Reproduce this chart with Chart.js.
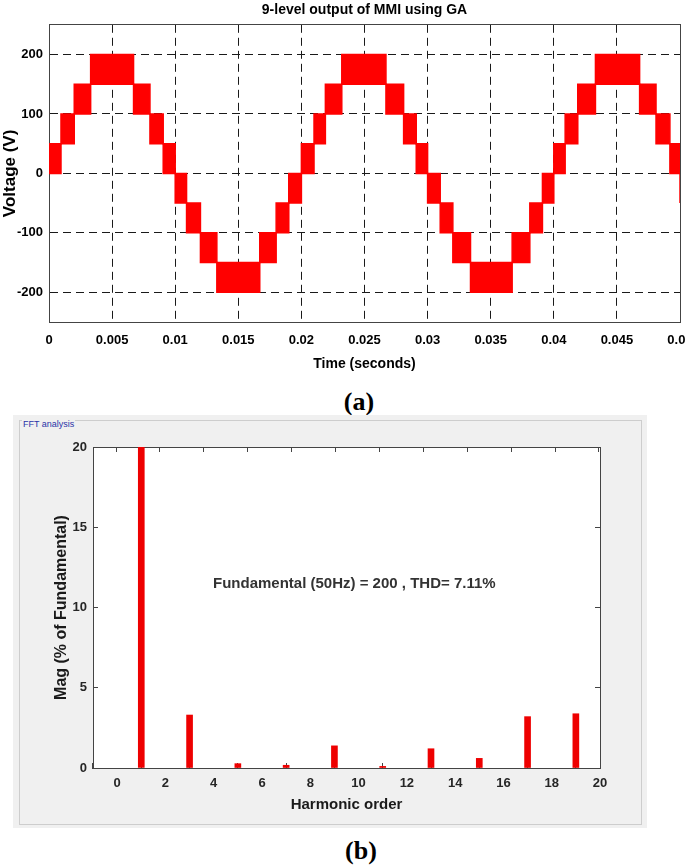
<!DOCTYPE html>
<html>
<head>
<meta charset="utf-8">
<title>9-level output of MMI using GA</title>
<script src="https://cdn.jsdelivr.net/npm/chart.js@4/dist/chart.umd.min.js"></script>
<style>
  html, body { margin: 0; padding: 0; background: #fff; }
  body { position: relative; width: 685px; height: 866px; overflow: hidden; font-family: 'Liberation Sans', Arial, sans-serif; }
  #waveCanvas { position: absolute; left: 0; top: 0; }
  .caption { position: absolute; width: 60px; text-align: center; font-family: 'Liberation Serif', 'Times New Roman', serif; font-weight: bold; font-size: 26px; line-height: 26px; }
  #capA { left: 329px; top: 389px; }
  #capB { left: 331px; top: 838px; }
  #fftPanel { position: absolute; left: 13px; top: 415px; width: 634px; height: 413px; background: #f0f0f0; }
  #fftGroup { position: absolute; left: 6px; top: 5px; width: 623px; height: 405px; box-sizing: border-box; border: 1px solid #cdcdcd; }
  #fftGroup span { position: absolute; left: 2px; top: -2px; padding: 0 1px; background: #f0f0f0; color: #2a34a8; font-size: 9px; line-height: 11px; }
  #fftCanvas { position: absolute; left: 0; top: 0; }
  #fftNote { position: absolute; left: 213px; top: 574px; white-space: nowrap; font-weight: bold; font-size: 15px; line-height: 18px; color: #333; }
</style>
</head>
<body>
<canvas id="waveCanvas" width="685" height="385"></canvas>
<div class="caption" id="capA">(a)</div>
<div id="fftPanel">
  <div id="fftGroup"><span>FFT analysis</span></div>
  <canvas id="fftCanvas" width="634" height="413"></canvas>
</div>
<div id="fftNote">Fundamental (50Hz) = 200 , THD= 7.11%</div>
<div class="caption" id="capB">(b)</div>

<script>
// (a) stepped output: each switching instant starts a band between lower and upper level
const switchTimes = [
  0, 0.00095, 0.002, 0.0033, 0.0067, 0.008, 0.00905,
  0.01, 0.0109, 0.012, 0.0133, 0.0167, 0.018, 0.019,
  0.02, 0.021, 0.0219, 0.0232, 0.0267, 0.0281, 0.0291,
  0.03, 0.031, 0.032, 0.0334, 0.0367, 0.0381, 0.0391,
  0.04, 0.0409, 0.0419, 0.0433, 0.0468, 0.0481, 0.0492,
  0.05
];
const upperLevels = [
  50, 100, 150, 200, 150, 100, 50,
  0, -50, -100, -150, -100, -50, 0,
  50, 100, 150, 200, 150, 100, 50,
  0, -50, -100, -150, -100, -50, 0,
  50, 100, 150, 200, 150, 100, 50,
  0
];
const lowerLevels = [
  0, 50, 100, 150, 100, 50, 0,
  -50, -100, -150, -200, -150, -100, -50,
  0, 50, 100, 150, 100, 50, 0,
  -50, -100, -150, -200, -150, -100, -50,
  0, 50, 100, 150, 100, 50, 0,
  -50
];
const timeTicks = [0, 0.005, 0.01, 0.015, 0.02, 0.025, 0.03, 0.035, 0.04, 0.045, 0.05];
const voltTicks = [-200, -100, 0, 100, 200];

// (b) FFT spectrum
const harmonicOrders = [1, 3, 5, 7, 9, 11, 13, 15, 17, 19];
const harmonicMag = [100, 3.3, 0.27, 0.17, 1.38, 0.1, 1.2, 0.6, 3.2, 3.38];
const harmonicTicks = [0, 2, 4, 6, 8, 10, 12, 14, 16, 18, 20];
const magTicks = [0, 5, 10, 15, 20];

Chart.defaults.font.family = "'Liberation Sans', Arial, sans-serif";
Chart.defaults.animation = false;

function fixTicks(values) {
    return function(scale) {
        scale.ticks = values.map(v => ({ value: v }));
    };
}

function noPad(scale) {
    scale.paddingLeft = 0;
    scale.paddingRight = 0;
    scale.paddingTop = 0;
    scale.paddingBottom = 0;
}

const plotBackground = {
    id: 'plotBackground',
    beforeDraw(chart) {
        const { ctx, chartArea: a } = chart;
        ctx.save();
        ctx.fillStyle = '#ffffff';
        ctx.fillRect(a.left, a.top, a.right - a.left, a.bottom - a.top);
        ctx.restore();
    }
};

const red = '#ff0000';
const gridDark = '#1a1a1a';
const boxColor = '#444444';

new Chart(document.getElementById('waveCanvas'), {
    type: 'line',
    data: {
        datasets: [
            {
                label: 'upper',
                data: switchTimes.map((t, i) => ({ x: t, y: upperLevels[i] })),
                stepped: 'before',
                borderColor: red,
                borderWidth: 1.5,
                pointRadius: 0,
                fill: false
            },
            {
                label: 'lower',
                data: switchTimes.map((t, i) => ({ x: t, y: lowerLevels[i] })),
                stepped: 'before',
                borderColor: red,
                borderWidth: 1.5,
                pointRadius: 0,
                backgroundColor: red,
                fill: '-1'
            }
        ]
    },
    options: {
        responsive: false,
        layout: { padding: { left: 0, right: 5, top: 0, bottom: 0 } },
        plugins: {
            legend: { display: false },
            tooltip: { enabled: false },
            title: {
                display: true,
                fullSize: false,
                text: '9-level output of MMI using GA',
                color: '#000',
                font: { size: 14, weight: 'bold' },
                padding: { top: 2, bottom: 6 }
            }
        },
        scales: {
            x: {
                type: 'linear',
                position: 'bottom',
                min: 0,
                max: 0.05,
                afterBuildTicks: fixTicks(timeTicks),
                afterFit(scale) { noPad(scale); scale.height = 63; },
                grid: { color: gridDark, lineWidth: 1, drawTicks: false },
                border: { color: boxColor, dash: [8, 5] },
                ticks: {
                    color: '#000',
                    font: { size: 13, weight: 'bold' },
                    padding: 11,
                    maxRotation: 0,
                    autoSkip: false,
                    callback: v => String(v)
                },
                title: {
                    display: true,
                    text: 'Time (seconds)',
                    color: '#000',
                    font: { size: 14, weight: 'bold' },
                    padding: { top: 0, bottom: 12 }
                }
            },
            y: {
                type: 'linear',
                position: 'left',
                min: -250,
                max: 250,
                afterBuildTicks: fixTicks(voltTicks),
                afterFit(scale) { noPad(scale); scale.width = 49; },
                grid: { color: gridDark, lineWidth: 1, drawTicks: false },
                border: { color: boxColor, dash: [8, 5] },
                ticks: {
                    color: '#000',
                    font: { size: 13, weight: 'bold' },
                    padding: 6,
                    autoSkip: false
                },
                title: {
                    display: true,
                    text: 'Voltage (V)',
                    color: '#000',
                    font: { size: 17, weight: 'bold' },
                    padding: { top: 0, bottom: 0 }
                }
            },
            xTop: {
                type: 'linear',
                position: 'top',
                afterFit(scale) { noPad(scale); scale.height = 0; },
                grid: { display: false },
                border: { color: boxColor },
                ticks: { display: false }
            },
            yRight: {
                type: 'linear',
                position: 'right',
                afterFit(scale) { noPad(scale); scale.width = 0; },
                grid: { display: false },
                border: { color: boxColor },
                ticks: { display: false }
            }
        }
    }
});

const tickGrid = { drawOnChartArea: false, drawTicks: true, tickLength: -5, color: boxColor, lineWidth: 1 };
const labelGray = '#262626';

new Chart(document.getElementById('fftCanvas'), {
    type: 'bar',
    data: {
        datasets: [{
            label: 'Mag',
            data: harmonicOrders.map((h, i) => ({ x: h, y: harmonicMag[i] })),
            backgroundColor: '#ee0000',
            borderWidth: 0,
            barThickness: 6,
            clip: 0
        }]
    },
    options: {
        responsive: false,
        layout: { padding: { left: 0, right: 47, top: 32, bottom: 0 } },
        plugins: {
            legend: { display: false },
            tooltip: { enabled: false }
        },
        scales: {
            x: {
                type: 'linear',
                position: 'bottom',
                min: -1,
                max: 20,
                offset: false,
                afterBuildTicks: fixTicks(harmonicTicks),
                afterFit(scale) { noPad(scale); scale.height = 60; },
                grid: tickGrid,
                border: { color: boxColor },
                ticks: {
                    color: labelGray,
                    font: { size: 13, weight: 'bold' },
                    padding: 13,
                    maxRotation: 0,
                    autoSkip: false
                },
                title: {
                    display: true,
                    text: 'Harmonic order',
                    color: '#1a1a1a',
                    font: { size: 15, weight: 'bold' },
                    padding: { top: 0, bottom: 14 }
                }
            },
            y: {
                type: 'linear',
                position: 'left',
                min: 0,
                max: 20,
                afterBuildTicks: fixTicks(magTicks),
                afterFit(scale) { noPad(scale); scale.width = 80; },
                grid: tickGrid,
                border: { color: boxColor },
                ticks: {
                    color: labelGray,
                    font: { size: 13, weight: 'bold' },
                    padding: 11,
                    autoSkip: false
                },
                title: {
                    display: true,
                    text: 'Mag (% of Fundamental)',
                    color: '#1a1a1a',
                    font: { size: 16, weight: 'bold' },
                    padding: { top: 39, bottom: 0 }
                }
            },
            xTop: {
                type: 'linear',
                position: 'top',
                min: -1,
                max: 20,
                afterBuildTicks: fixTicks(harmonicTicks),
                afterFit(scale) { noPad(scale); scale.height = 0; },
                grid: tickGrid,
                border: { color: boxColor },
                ticks: { display: false }
            },
            yRight: {
                type: 'linear',
                position: 'right',
                min: 0,
                max: 20,
                afterBuildTicks: fixTicks(magTicks),
                afterFit(scale) { noPad(scale); scale.width = 0; },
                grid: tickGrid,
                border: { color: boxColor },
                ticks: { display: false }
            }
        }
    },
    plugins: [plotBackground]
});
</script>
</body>
</html>
